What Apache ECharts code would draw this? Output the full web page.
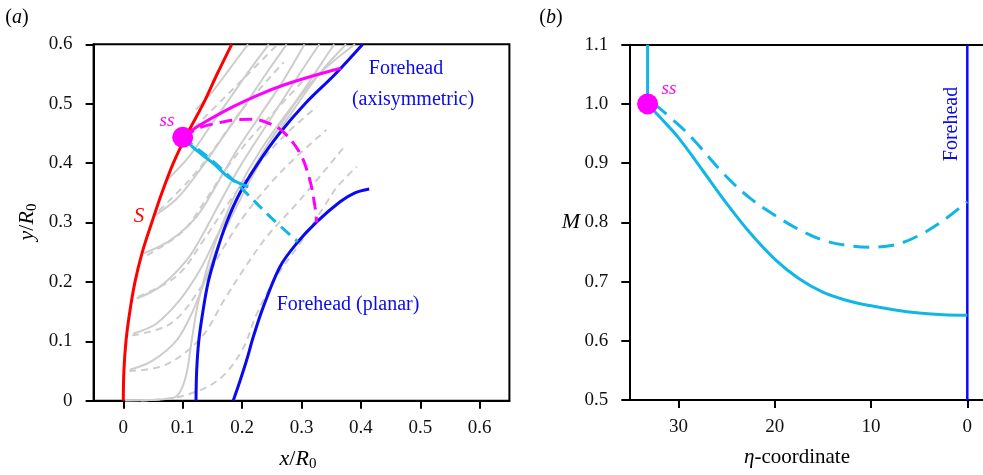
<!DOCTYPE html>
<html>
<head>
<meta charset="utf-8">
<script src="https://cdn.jsdelivr.net/npm/echarts@6/dist/echarts.min.js"></script>
<style>
  html, body { margin: 0; padding: 0; background: #fff; }
  #chart { width: 983px; height: 475px; }
</style>
</head>
<body>
<div id="chart"></div>
<script>
// ---- panel (a) data, x/R0 , y/R0 ----
var xTicksA = [0, 0.1, 0.2, 0.3, 0.4, 0.5, 0.6];
var yTicksA = [0, 0.1, 0.2, 0.3, 0.4, 0.5, 0.6];

var shockS = [[0,0],[0.001,0.05],[0.0045,0.1],[0.011,0.15],[0.0197,0.2],[0.032,0.25],[0.048,0.3],
  [0.065,0.35],[0.0842,0.4],[0.108,0.45],[0.1347,0.5],[0.158,0.55],[0.1825,0.6]];
var foreheadAxi = [[0.1224,0],[0.1235,0.05],[0.127,0.1],[0.134,0.15],[0.143,0.2],[0.157,0.25],[0.174,0.3],
  [0.1965,0.35],[0.227,0.4],[0.263,0.45],[0.306,0.5],[0.357,0.55],[0.403,0.6]];
var foreheadPlanar = [[0.185,0],[0.197,0.035],[0.2077,0.0685],[0.219,0.108],[0.2357,0.158],[0.2638,0.2256],
  [0.292,0.265],[0.3256,0.301],[0.365,0.335],[0.39,0.35],[0.414,0.3565]];
var ssPoint = [[0.1,0.4434]];
var magentaSolid = [[0.1,0.4434],[0.129,0.464],[0.185,0.495],[0.228,0.515],[0.269,0.531],[0.32,0.547],[0.366,0.5596]];
var magentaDashed = [[0.1,0.4434],[0.13,0.46],[0.157,0.467],[0.19,0.473],[0.219,0.4737],[0.245,0.467],[0.269,0.453],
  [0.2975,0.4165],[0.314,0.3716],[0.3227,0.3266],[0.3256,0.2997]];
var cyanSolidA = [[0.1,0.4434],[0.125,0.42],[0.1515,0.3997],[0.1796,0.3744],[0.2104,0.36]];
var cyanDashedA = [[0.1,0.4434],[0.13,0.42],[0.16,0.395],[0.202,0.3547],[0.247,0.31],[0.2936,0.2677]];

// grey streamlines (solid = planar, dashed = axisymmetric)
var greySolid = [
  [[0.003,0],[0.06,0.002],[0.09,0.008],[0.105,0.04],[0.115,0.1],[0.125,0.16],[0.14,0.22],[0.16,0.28],[0.19,0.35],[0.23,0.42],[0.28,0.49],[0.33,0.55],[0.39,0.6]],
  [[0.011,0.052],[0.05,0.068],[0.09,0.102],[0.118,0.153],[0.14,0.209],[0.163,0.27],[0.195,0.335],[0.235,0.41],[0.28,0.48],[0.33,0.55],[0.375,0.6]],
  [[0.017,0.113],[0.056,0.13],[0.0955,0.17],[0.129,0.22],[0.157,0.276],[0.19,0.338],[0.23,0.41],[0.275,0.48],[0.315,0.54],[0.355,0.6]],
  [[0.0225,0.172],[0.062,0.192],[0.107,0.237],[0.135,0.282],[0.165,0.338],[0.2,0.4],[0.245,0.47],[0.29,0.54],[0.33,0.6]],
  [[0.034,0.248],[0.079,0.27],[0.1235,0.31],[0.155,0.36],[0.19,0.42],[0.23,0.48],[0.27,0.54],[0.305,0.6]],
  [[0.05,0.31],[0.09,0.34],[0.13,0.39],[0.165,0.44],[0.2,0.49],[0.24,0.55],[0.275,0.6]],
  [[0.072,0.37],[0.11,0.41],[0.145,0.46],[0.18,0.51],[0.215,0.56],[0.245,0.6]],
  [[0.122,0.49],[0.15,0.52],[0.18,0.56],[0.21,0.6]]
];
var greyDashed = [
  [[0.03,0],[0.1,0.008],[0.16,0.035],[0.2,0.085],[0.225,0.147],[0.258,0.209],[0.2975,0.265],[0.34,0.33],[0.36,0.36],[0.393,0.394]],
  [[0.01,0.05],[0.07,0.06],[0.13,0.105],[0.17,0.17],[0.202,0.22],[0.2414,0.276],[0.2975,0.338],[0.37,0.425]],
  [[0.015,0.11],[0.08,0.13],[0.13,0.19],[0.17,0.26],[0.21,0.32],[0.27,0.39],[0.342,0.456]],
  [[0.025,0.175],[0.09,0.21],[0.135,0.27],[0.175,0.33],[0.22,0.39],[0.275,0.45],[0.326,0.495]],
  [[0.04,0.245],[0.1,0.285],[0.14,0.34],[0.18,0.4],[0.23,0.46],[0.309,0.545]],
  [[0.06,0.32],[0.11,0.37],[0.15,0.42],[0.2,0.49],[0.27,0.57]],
  [[0.12,0.46],[0.17,0.51],[0.22,0.56],[0.26,0.6]]
];

// ---- panel (b) data, eta-coordinate , M ----
var etaTicks = [30, 20, 10, 0];
var mTicks = [0.5, 0.6, 0.7, 0.8, 0.9, 1.0, 1.1];
var sonicStem = [[33.2,1.1],[33.2,1.0]];
var ssPointB = [[33.2,1.0]];
var machSolid = [[33.2,1.0],[32,0.979],[30,0.943],[27.5,0.888],[25,0.832],[22.5,0.781],[20,0.738],[17.5,0.705],
  [15,0.682],[12.5,0.668],[10,0.659],[7.5,0.652],[5,0.647],[2.5,0.644],[0,0.643]];
var machDashed = [[32.5,1.0],[30,0.965],[28.4,0.939],[25,0.877],[22.5,0.84],[20,0.812],[17.5,0.788],[15,0.77],
  [12.5,0.761],[10,0.758],[7.5,0.762],[5,0.778],[2.5,0.803],[0,0.835]];
var foreheadB = [[0,0.5],[0,1.1]];

var FONT = 'Liberation Serif';
var CYAN = '#12b6e6';
var BLUE = '#0a0af0';

function line(data, xi, color, width, dash, z) {
  return {
    type: 'line', xAxisIndex: xi, yAxisIndex: xi, data: data, showSymbol: false, symbol: 'none',
    smooth: 0.35, silent: true, z: z,
    lineStyle: { color: color, width: width, type: dash ? dash : 'solid', cap: 'butt' }
  };
}

function valueAxis(gi, min, max, ticks, fmt, inverse, margin) {
  return {
    type: 'value', gridIndex: gi, min: min, max: max, inverse: !!inverse,
    splitLine: { show: false },
    axisLine: { show: true, onZero: false, lineStyle: { color: '#000', width: 2 } },
    axisTick: { show: true, customValues: ticks, length: 8, lineStyle: { color: '#000', width: 2 } },
    axisLabel: { customValues: ticks, margin: margin, color: '#111', fontFamily: FONT, fontSize: 19, formatter: fmt }
  };
}

var chart = echarts.init(document.getElementById('chart'));
var series = [];
greySolid.forEach(function (d) { series.push(line(d, 0, '#cdcdcd', 2, null, 1)); });
greyDashed.forEach(function (d) { series.push(line(d, 0, '#cdcdcd', 2, [7, 5], 1)); });
series.push(line(shockS, 0, '#ff0000', 3, null, 3));
series.push(line(foreheadAxi, 0, BLUE, 3, null, 3));
series.push(line(foreheadPlanar, 0, BLUE, 3, null, 3));
series.push(line(cyanDashedA, 0, CYAN, 3, [12, 7], 4));
series.push(line(cyanSolidA, 0, CYAN, 3, null, 4));
series.push(line(magentaSolid, 0, '#ff00ff', 3, null, 4));
series.push(line(magentaDashed, 0, '#ff00ff', 3, [13, 7], 4));
series.push({ type: 'scatter', xAxisIndex: 0, yAxisIndex: 0, data: ssPoint, symbolSize: 21,
  itemStyle: { color: '#ff00ff', opacity: 1 }, z: 6, silent: true });

series.push(line(foreheadB, 1, BLUE, 2.5, null, 3));
series.push(line(sonicStem, 1, CYAN, 3, null, 4));
series.push(line(machSolid, 1, CYAN, 3, null, 4));
series.push(line(machDashed, 1, CYAN, 3, [16, 9], 4));
series.push({ type: 'scatter', xAxisIndex: 1, yAxisIndex: 1, data: ssPointB, symbolSize: 21,
  itemStyle: { color: '#ff00ff', opacity: 1 }, z: 6, silent: true });

var fmtA = function (v) { return v === 0 ? '0' : v.toFixed(1); };

// panel (b) runs past the right edge of the picture, so its top spine is a bare axis line
var topB = {
  type: 'value', gridIndex: 1, position: 'top', min: -1.63, max: 35.1, inverse: true,
  splitLine: { show: false }, axisTick: { show: false }, axisLabel: { show: false },
  axisLine: { show: true, onZero: false, lineStyle: { color: '#000', width: 2 } }
};

var option = {
  animation: false,
  backgroundColor: '#fff',
  grid: [
    { left: 93.6, top: 44.3, width: 415.8, height: 356.4, show: true, borderColor: '#000', borderWidth: 2 },
    { left: 629.3, top: 44.7, width: 353.7, height: 355.3 }
  ],
  xAxis: [
    valueAxis(0, -0.05, 0.65, xTicksA, fmtA, false, 18),
    valueAxis(1, -1.63, 35.1, etaTicks, function (v) { return String(v); }, true, 18),
    topB
  ],
  yAxis: [
    valueAxis(0, 0, 0.6, yTicksA, fmtA, false, 21),
    valueAxis(1, 0.5, 1.1, mTicks, function (v) { return v.toFixed(1); }, false, 21)
  ],
  series: series,
  graphic: [
    { type: 'text', x: 17, y: 18, style: { text: '({i|a})', font: '20px ' + FONT, fill: '#000', align: 'center', verticalAlign: 'middle',
      rich: { i: { fontStyle: 'italic', fontFamily: FONT, fontSize: 20 } } } },
    { type: 'text', x: 551, y: 18, style: { text: '({i|b})', font: '20px ' + FONT, fill: '#000', align: 'center', verticalAlign: 'middle',
      rich: { i: { fontStyle: 'italic', fontFamily: FONT, fontSize: 20 } } } },
    { type: 'text', x: 298, y: 459, style: { text: '{i|x}{n|/}{i|R}{s|0}', fill: '#000', align: 'center', verticalAlign: 'middle',
      rich: { i: { fontStyle: 'italic', fontFamily: FONT, fontSize: 22, lineHeight: 26 },
              n: { fontFamily: FONT, fontSize: 22, lineHeight: 26 },
              s: { fontFamily: FONT, fontSize: 15, lineHeight: 26, verticalAlign: 'bottom' } } } },
    { type: 'text', x: 27, y: 222, rotation: Math.PI / 2, style: { text: '{i|y}{n|/}{i|R}{s|0}', fill: '#000', align: 'center', verticalAlign: 'middle',
      rich: { i: { fontStyle: 'italic', fontFamily: FONT, fontSize: 22, lineHeight: 26 },
              n: { fontFamily: FONT, fontSize: 22, lineHeight: 26 },
              s: { fontFamily: FONT, fontSize: 15, lineHeight: 26, verticalAlign: 'bottom' } } } },
    { type: 'text', x: 571, y: 222, style: { text: 'M', font: 'italic 22px ' + FONT, fill: '#000', align: 'center', verticalAlign: 'middle' } },
    { type: 'text', x: 797, y: 457, style: { text: '{i|η}{n|-coordinate}', fill: '#000', align: 'center', verticalAlign: 'middle',
      rich: { i: { fontStyle: 'italic', fontFamily: FONT, fontSize: 21 }, n: { fontFamily: FONT, fontSize: 21 } } } },
    { type: 'text', x: 406, y: 69, style: { text: 'Forehead', font: '20px ' + FONT, fill: BLUE, align: 'center', verticalAlign: 'middle' } },
    { type: 'text', x: 413, y: 100, style: { text: '(axisymmetric)', font: '20px ' + FONT, fill: BLUE, align: 'center', verticalAlign: 'middle' } },
    { type: 'text', x: 348, y: 305, style: { text: 'Forehead (planar)', font: '20px ' + FONT, fill: BLUE, align: 'center', verticalAlign: 'middle' } },
    { type: 'text', x: 139, y: 216, style: { text: 'S', font: 'italic 21px ' + FONT, fill: '#ff0000', align: 'center', verticalAlign: 'middle' } },
    { type: 'text', x: 167, y: 121, style: { text: 'ss', font: 'italic 19px ' + FONT, fill: '#ff00ff', align: 'center', verticalAlign: 'middle' } },
    { type: 'text', x: 669, y: 89, style: { text: 'ss', font: 'italic 19px ' + FONT, fill: '#ff00ff', align: 'center', verticalAlign: 'middle' } },
    { type: 'text', x: 952, y: 124, rotation: Math.PI / 2, style: { text: 'Forehead', font: '20px ' + FONT, fill: BLUE, align: 'center', verticalAlign: 'middle' } }
  ]
};
chart.setOption(option);
</script>
</body>
</html>
